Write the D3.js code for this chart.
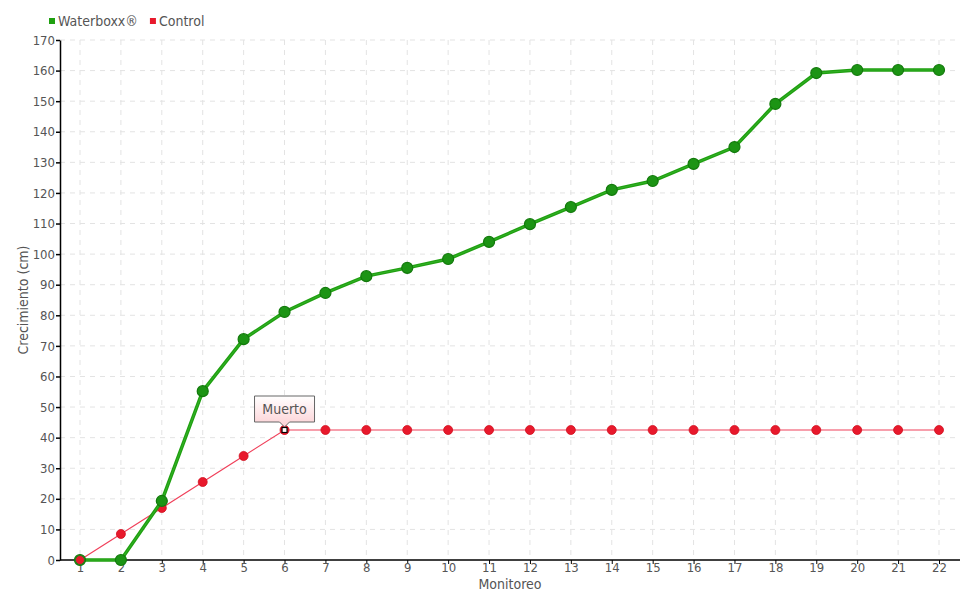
<!DOCTYPE html>
<html><head><meta charset="utf-8">
<script src="https://cdn.jsdelivr.net/npm/d3@7"></script>
<style>
body{margin:0;background:#fff;}
text{font-family:"DejaVu Sans Condensed","Liberation Sans Narrow",sans-serif;font-stretch:condensed;}
</style></head>
<body><svg id="c" width="980" height="600"></svg>
<script>
const categories = [1,2,3,4,5,6,7,8,9,10,11,12,13,14,15,16,17,18,19,20,21,22];
const waterboxx = [0,0,19.3,55.2,72.2,81.1,87.3,92.8,95.5,98.4,104,109.8,115.4,121,123.9,129.5,135,149.1,159.2,160.2,160.2,160.2];
const control = [0,8.5,17,25.5,34,42.5,42.5,42.5,42.5,42.5,42.5,42.5,42.5,42.5,42.5,42.5,42.5,42.5,42.5,42.5,42.5,42.5];
const yTicks = d3.range(0,171,10);
const seriesNames = ["Waterboxx®","Control"];
const annotation = {index:5, label:"Muerto"};

const svg = d3.select("#c");
const L=60, R=960, T=40, B=560;
const x = d3.scaleLinear().domain([1,22]).range([80,939]);
const y = d3.scaleLinear().domain([0,170]).range([B,T]);

// grid
const g = svg.append("g");
g.selectAll(".hg").data(yTicks.filter(d=>d>0)).join("line")
 .attr("x1",L).attr("x2",R).attr("y1",d=>y(d)).attr("y2",d=>y(d))
 .attr("stroke","#e3e3e3").attr("stroke-dasharray","5,5");
g.selectAll(".vg").data(categories).join("line")
 .attr("x1",d=>x(d)).attr("x2",d=>x(d)).attr("y1",T).attr("y2",B)
 .attr("stroke","#e3e3e3").attr("stroke-dasharray","5,5");

// axes
const ya = svg.append("g").attr("transform",`translate(${L},0)`)
 .call(d3.axisLeft(y).tickValues(yTicks).tickSize(4).tickSizeOuter(0));
ya.select(".domain").attr("stroke","#000").attr("stroke-width",1.5);
ya.selectAll(".tick line").attr("stroke","#000").attr("stroke-width",1.5);
ya.selectAll(".tick text").attr("fill","#555").attr("font-size",13).attr("x",-5);

const xa = svg.append("g").attr("transform",`translate(0,${B})`)
 .call(d3.axisBottom(x).tickValues(categories).tickFormat(d3.format("d")).tickSize(4).tickSizeOuter(0));
xa.select(".domain").attr("d",`M${L},0H${R}`).attr("stroke","#000").attr("stroke-width",1.5);
xa.selectAll(".tick line").attr("stroke","#000");
xa.selectAll(".tick text").attr("fill","#555").attr("font-size",13).attr("y",3);

svg.append("text").attr("x",510).attr("y",589).attr("text-anchor","middle")
 .attr("fill","#555").attr("font-size",14).text("Monitoreo");
svg.append("text").attr("transform","translate(28,300) rotate(-90)").attr("text-anchor","middle")
 .attr("fill","#555").attr("font-size",14).text("Crecimiento (cm)");

// lines
const line = d3.line().x((d,i)=>x(categories[i])).y(d=>y(d));
svg.append("path").datum(control).attr("d",line).attr("fill","none")
 .attr("stroke","#f0405a").attr("stroke-width",1.2);
svg.selectAll(".cp").data(control).join("circle")
 .attr("cx",(d,i)=>x(categories[i])).attr("cy",d=>y(d)).attr("r",4.5)
 .attr("fill","#e8192c").attr("stroke","#d01020").attr("stroke-width",0.8);

svg.append("path").datum(waterboxx).attr("d",line).attr("fill","none")
 .attr("stroke","#1fa010").attr("stroke-width",3.5);
svg.append("path").datum(waterboxx).attr("d",line).attr("fill","none")
 .attr("stroke","#3cb832").attr("stroke-width",1).attr("opacity",0.7);
svg.selectAll(".wp").data(waterboxx).join("circle")
 .attr("cx",(d,i)=>x(categories[i])).attr("cy",d=>y(d)).attr("r",5.5)
 .attr("fill","#1c9414").attr("stroke","#137a0c").attr("stroke-width",1.2);

// control point drawn over green at start
svg.append("circle").attr("cx",x(categories[0])).attr("cy",y(control[0])).attr("r",4.5)
 .attr("fill","#e8192c").attr("stroke","#2a7a1a").attr("stroke-width",1);

// annotation marker
const ax = x(categories[annotation.index]), ay = y(control[annotation.index]);
svg.append("circle").attr("cx",ax).attr("cy",ay).attr("r",4.5).attr("fill","#e8192c");
svg.append("rect").attr("x",ax-2.5).attr("y",ay-2.5).attr("width",5).attr("height",5)
 .attr("fill","#fff").attr("stroke","#000").attr("stroke-width",1.2);

// tooltip
const defs = svg.append("defs");
const gr = defs.append("linearGradient").attr("id","tg").attr("x1",0).attr("y1",0).attr("x2",0).attr("y2",1);
gr.append("stop").attr("offset","0%").attr("stop-color","#ffffff");
gr.append("stop").attr("offset","100%").attr("stop-color","#fcd0d4");
const bx = ax-30, by = ay-34, bw = 60, bh = 26;
svg.append("path")
 .attr("d",`M${bx},${by}H${bx+bw}V${by+bh}H${ax+5}L${ax},${by+bh+5}L${ax-5},${by+bh}H${bx}Z`)
 .attr("fill","url(#tg)").attr("stroke","#666").attr("stroke-width",1);
svg.append("text").attr("x",ax).attr("y",by+18).attr("text-anchor","middle")
 .attr("fill","#555").attr("font-size",14).text(annotation.label);

// legend
const colors = ["#1fa010","#e8192c"];
const lg = svg.append("g");
let lx = 49;
seriesNames.forEach((n,i)=>{
  lg.append("rect").attr("x",lx).attr("y",18).attr("width",6).attr("height",6).attr("fill",colors[i]);
  const t = lg.append("text").attr("x",lx+9).attr("y",26).attr("fill","#555").attr("font-size",14).text(n);
  lx = lx + 9 + t.node().getComputedTextLength() + 12;
});
</script></body></html>
